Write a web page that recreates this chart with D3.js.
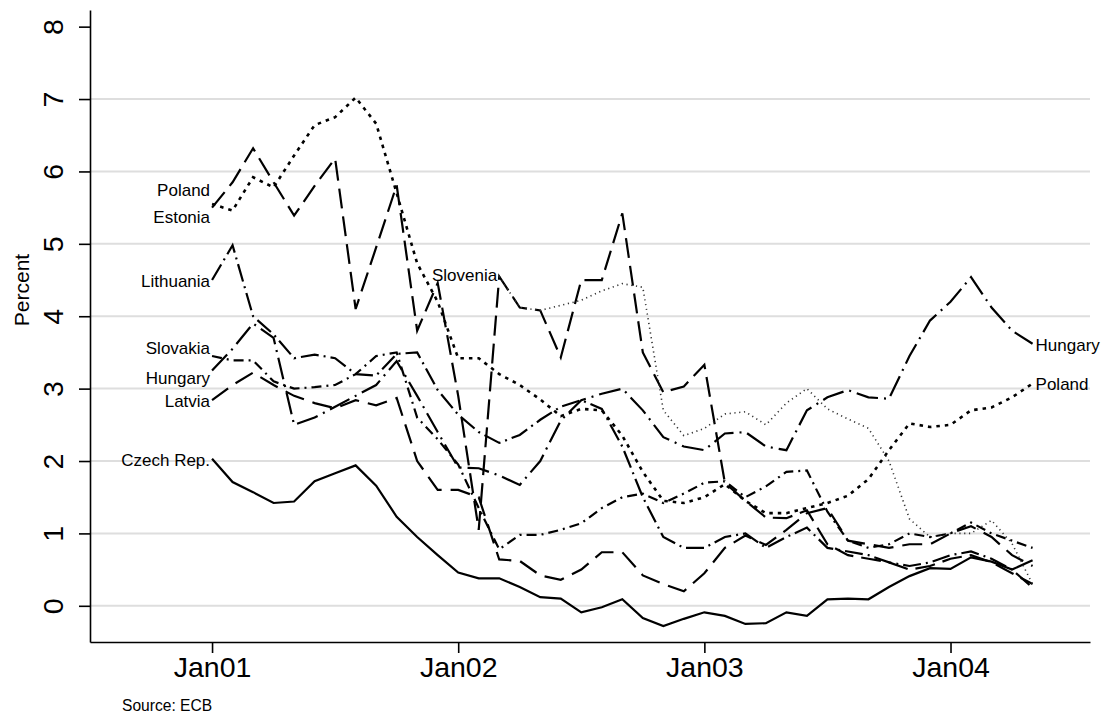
<!DOCTYPE html>
<html><head><meta charset="utf-8">
<script src="https://cdn.jsdelivr.net/npm/d3@7"></script>
<style>
body{margin:0;background:#fff;}
text{font-family:"Liberation Sans",Arial,Helvetica,sans-serif;fill:#000;}
</style>
</head><body>
<svg id="chart" width="1103" height="719"></svg>
<script>
// ---- data (monthly, Jan 2001 = month 0) ----
const tickMonths = [0, 12, 24, 36];
const tickLabels = ["Jan01", "Jan02", "Jan03", "Jan04"];
const yTicks = [0, 1, 2, 3, 4, 5, 6, 7, 8];

const czech    = [2.03,1.71,1.57,1.42,1.44,1.72,1.83,1.94,1.66,1.23,0.95,0.70,0.46,0.38,0.38,0.26,0.12,0.10,-0.09,-0.02,0.09,-0.17,-0.28,-0.18,-0.09,-0.14,-0.25,-0.24,-0.09,-0.14,0.09,0.10,0.09,0.26,0.41,0.52,0.51,0.67,0.61,0.50,0.63];
const poland   = [5.55,5.46,5.92,5.78,6.22,6.64,6.75,7.02,6.66,5.70,4.73,4.20,3.42,3.42,3.20,3.05,2.85,2.62,2.72,2.70,2.35,1.85,1.45,1.42,1.50,1.68,1.45,1.28,1.28,1.35,1.42,1.52,1.75,2.15,2.52,2.47,2.50,2.70,2.74,2.88,3.07];
const estonia  = [5.50,5.85,6.32,5.85,5.39,5.80,6.18,4.10,4.95,5.81,3.80,4.46,2.90,1.05,4.55,4.12,4.08,3.43,4.50,4.50,5.42,3.50,2.95,3.03,3.33,1.70,1.45,1.22,1.21,1.32,0.85,0.70,0.65,0.60,0.50,0.55,0.65,0.70,0.60,0.45,0.30];
const latvia   = [2.84,3.05,3.22,3.05,2.90,2.80,2.73,2.84,2.77,2.87,2.00,1.60,1.60,1.50,0.64,0.62,0.42,0.36,0.50,0.74,0.74,0.42,0.30,0.20,0.45,0.80,0.97,0.84,1.05,1.28,1.35,0.90,0.85,0.80,0.85,0.85,1.00,1.10,0.95,0.70,0.55];
const hungary  = [3.25,3.55,3.90,3.70,2.50,2.60,2.75,2.90,3.05,3.38,2.90,2.40,1.91,1.90,1.80,1.67,2.00,2.56,2.84,2.93,3.00,2.70,2.33,2.20,2.15,2.38,2.40,2.20,2.15,2.70,2.88,2.98,2.88,2.86,3.45,3.94,4.20,4.54,4.12,3.80,3.62];
const slovakia = [3.45,3.39,3.39,3.10,3.00,3.02,3.05,3.20,3.45,3.50,2.60,2.30,1.95,1.35,0.78,0.98,0.98,1.05,1.14,1.35,1.50,1.55,1.42,1.55,1.70,1.72,1.50,1.65,1.85,1.87,1.30,0.90,0.80,0.85,1.00,0.95,1.00,1.15,1.00,0.90,0.80];
const lithuania= [4.50,4.98,4.00,3.75,3.42,3.47,3.42,3.20,3.18,3.48,3.50,2.98,2.64,2.40,2.25,2.36,2.57,2.75,2.84,2.72,2.20,1.50,0.95,0.80,0.80,0.95,1.00,0.80,0.95,1.08,0.80,0.75,0.70,0.60,0.55,0.60,0.70,0.75,0.65,0.50,0.25];
const sloveniaStart = 14; // Mar 2002
const slovenia = [4.55,4.12,4.08,4.15,4.22,4.35,4.45,4.40,2.70,2.35,2.45,2.65,2.68,2.50,2.80,3.00,2.72,2.58,2.45,2.00,1.20,0.95,1.00,1.00,1.18,0.86,0.30];

// ---- series & styling ----
const series = [
  {name:"Czech Rep.", values:czech,     start:0, dash:null,          width:2.2},
  {name:"Latvia",     values:latvia,    start:0, dash:"20,9",        width:2.2},
  {name:"Hungary",    values:hungary,   start:0, dash:"22,6,2,6",    width:2.2},
  {name:"Slovakia",   values:slovakia,  start:0, dash:"10,5,2,5",    width:2.2},
  {name:"Lithuania",  values:lithuania, start:0, dash:"18,5,2,5",    width:2.2},
  {name:"Estonia",    values:estonia,   start:0, dash:"20,8",        width:2.2},
  {name:"Poland",     values:poland,    start:0, dash:"3.5,5",       width:2.6},
  {name:"Slovenia",   values:slovenia,  start:sloveniaStart, dash:"1.2,3.6", width:1.6}
];
// label placement: which end, vertical nudge (px)
const labels = [
  {name:"Czech Rep.", end:"first", dy:1},
  {name:"Latvia",     end:"first", dy:1},
  {name:"Hungary",    end:"first", dy:8},
  {name:"Slovakia",   end:"first", dy:-8},
  {name:"Lithuania",  end:"first", dy:1},
  {name:"Estonia",    end:"first", dy:9},
  {name:"Poland",     end:"first", dy:-14},
  {name:"Slovenia",   end:"first", dy:-1},
  {name:"Hungary",    end:"last",  dy:1},
  {name:"Poland",     end:"last",  dy:0}
];

// ---- layout ----
const svg = d3.select("#chart");
const x = d3.scaleLinear().domain([-5.95, 42.8]).range([90, 1090]);
const y = d3.scaleLinear().domain([-0.5, 8.23]).range([642, 10]);

// gridlines
svg.append("g").selectAll("line").data(yTicks.filter(t => t < 8)).join("line")
  .attr("x1", 90).attr("x2", 1090)
  .attr("y1", d => y(d)).attr("y2", d => y(d))
  .attr("stroke", "#dedede").attr("stroke-width", 2);

// axes
const xAxis = d3.axisBottom(x).tickValues(tickMonths)
  .tickFormat((d, i) => tickLabels[i]).tickSize(11).tickPadding(4).tickSizeOuter(0);
const gx = svg.append("g").attr("transform", "translate(0,642)").call(xAxis);
gx.select(".domain").attr("stroke", "#000").attr("stroke-width", 1.6);
gx.selectAll(".tick line").attr("stroke", "#000").attr("stroke-width", 1.6);
gx.selectAll(".tick text").attr("font-size", 28.5).attr("font-family", "Liberation Sans, Arial, sans-serif").attr("fill", "#000");

const yAxis = d3.axisLeft(y).tickValues(yTicks).tickSize(11).tickSizeOuter(0);
const gy = svg.append("g").attr("transform", "translate(90,0)").call(yAxis);
gy.select(".domain").attr("stroke", "#000").attr("stroke-width", 1.6);
gy.selectAll(".tick line").attr("stroke", "#000").attr("stroke-width", 1.6);
gy.selectAll(".tick text")
  .attr("font-size", 28.5).attr("font-family", "Liberation Sans, Arial, sans-serif").attr("fill", "#000")
  .attr("text-anchor", "middle").attr("x", 0).attr("dy", 0)
  .attr("transform", "translate(-27,0) rotate(-90)");

// axis title
svg.append("text").attr("transform", "translate(29,290) rotate(-90)")
  .attr("text-anchor", "middle").attr("font-size", 21).text("Percent");

// source note
svg.append("text").attr("x", 122).attr("y", 711).attr("font-size", 15.6).text("Source: ECB");

// lines
const line = d3.line().x(d => x(d.m)).y(d => y(d.v));
series.forEach(s => {
  const pts = s.values.map((v, i) => ({m: i + s.start, v}));
  s.pts = pts;
  svg.append("path").datum(pts)
    .attr("d", line).attr("fill", "none")
    .attr("stroke", s.name === "Slovenia" ? "#333" : "#000")
    .attr("stroke-width", s.width)
    .attr("stroke-linejoin", "miter")
    .attr("stroke-dasharray", s.dash);
});

// labels
labels.forEach(l => {
  const s = series.find(d => d.name === l.name);
  const p = l.end === "first" ? s.pts[0] : s.pts[s.pts.length - 1];
  svg.append("text")
    .attr("x", x(p.m) + (l.end === "first" ? -2 : 3))
    .attr("y", y(p.v) + l.dy)
    .attr("dy", "0.35em")
    .attr("text-anchor", l.end === "first" ? "end" : "start")
    .attr("font-size", 17).text(l.name);
});
</script>
</body></html>
